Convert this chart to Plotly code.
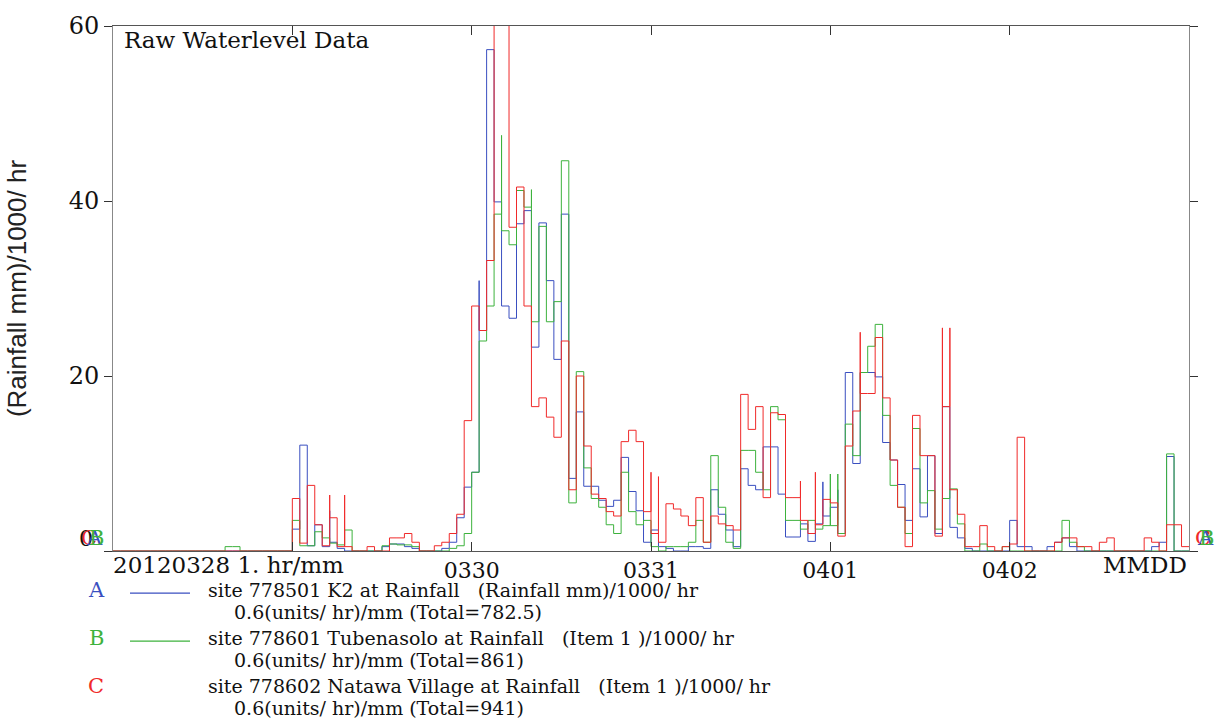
import plotly.graph_objects as go

# Hourly rainfall, 2012-03-28 00:00 to 2012-04-03 00:00 (144 hours), units (mm)/1000/hr
site_a = [  # 778501 K2
    0, 0, 0, 0, 0, 0, 0, 0, 0, 0, 0, 0,
    0, 0, 0, 0, 0, 0, 0, 0, 0, 0, 0, 0,
    2.5, 12.1, 0.6, 3.0, 0.5, 1.0, 0.3, 0, 0, 0, 0, 0,
    0.5, 0.8, 0.8, 0.5, 0.3, 0, 0, 0, 0.3, 1.0, 3.8, 7.3,
    9.0, 25.2, 57.3, 39.9, 28.0, 26.6, 37.4, 38.9, 23.3, 37.5, 30.9, 21.9,
    38.5, 8.3, 15.9, 7.4, 7.4, 5.8, 5.1, 5.8, 10.7, 6.8, 4.6, 1.0,
    2.4, 0.5, 0.3, 0, 0, 0.5, 0.5, 0.3, 7.0, 4.2, 2.4, 0.5,
    9.4, 7.5, 7.0, 11.9, 11.9, 6.5, 1.6, 1.6, 3.1, 1.1, 3.1, 4.0,
    5.0, 2.0, 20.4, 10.0, 20.4, 20.4, 19.9, 12.4, 10.4, 7.6, 3.5, 9.4,
    3.9, 10.9, 2.0, 16.5, 2.7, 1.5, 0.3, 0, 0, 0, 0, 0,
    3.5, 0.5, 0.5, 0, 0, 0.5, 1.0, 1.5, 0.5, 0, 0, 0,
    0, 0, 0, 0, 0, 0, 0, 0.5, 1.0, 10.8, 0, 0,
]
site_b = [  # 778601 Tubenasolo
    0, 0, 0, 0, 0, 0, 0, 0, 0, 0, 0, 0,
    0, 0, 0, 0.5, 0.5, 0, 0, 0, 0, 0, 0, 0,
    3.5, 0.6, 0.6, 2.2, 1.5, 0.9, 0.7, 2.4, 0, 0, 0, 0,
    0.6, 0.8, 0.7, 0.7, 0.5, 0, 0, 0, 0, 0.3, 0.6, 2.0,
    9.0, 24.0, 28.0, 38.5, 36.6, 35.0, 41.2, 39.3, 26.2, 37.1, 26.2, 28.5,
    44.6, 5.5, 20.5, 9.5, 6.0, 5.0, 3.0, 2.0, 9.0, 4.5, 3.0, 3.5,
    0.5, 0, 0.5, 0.5, 0.5, 1.0, 3.5, 1.0, 10.9, 5.0, 1.0, 0.3,
    11.5, 11.5, 9.0, 7.0, 16.5, 15.0, 3.5, 3.5, 2.5, 3.5, 2.5, 2.9,
    2.9, 2.0, 14.5, 10.9, 20.4, 23.4, 25.9, 15.5, 7.5, 5.0, 2.0, 14.0,
    5.5, 6.9, 2.5, 6.0, 7.1, 3.1, 0, 0, 0.8, 0, 0, 0.5,
    0, 0, 0, 0, 0, 0, 0, 3.5, 1.0, 0.5, 0, 0,
    0, 0, 0, 0, 0, 0, 0, 0, 0, 11.1, 0, 0,
]
site_c = [  # 778602 Natawa Village
    0, 0, 0, 0, 0, 0, 0, 0, 0, 0, 0, 0,
    0, 0, 0, 0, 0, 0, 0, 0, 0, 0, 0, 0,
    6.0, 0.9, 7.5, 3.0, 0.6, 3.8, 0.5, 0.5, 0, 0, 0.5, 0,
    0, 1.5, 1.5, 2.0, 1.0, 0, 0, 0.6, 1.0, 2.0, 4.2, 14.9,
    28.0, 25.2, 33.2, 62.0, 62.0, 37.0, 41.6, 28.0, 16.5, 17.5, 15.3, 13.0,
    24.0, 7.0, 20.0, 12.0, 6.5, 6.0, 4.5, 4.0, 12.5, 13.8, 12.5, 4.5,
    2.0, 1.0, 5.4, 4.8, 4.0, 2.9, 6.1, 1.0, 4.0, 3.1, 2.9, 2.4,
    17.9, 13.9, 16.5, 6.1, 15.8, 15.6, 6.1, 6.1, 3.5, 2.0, 3.0, 5.9,
    5.5, 1.7, 12.0, 16.0, 18.0, 18.0, 24.4, 17.5, 10.4, 5.0, 0.5, 15.5,
    10.9, 10.9, 1.7, 16.5, 7.0, 4.2, 0.5, 0.5, 2.9, 0.5, 0, 0.5,
    0.8, 13.0, 0, 0, 0, 0, 1.0, 1.5, 1.5, 0.5, 0.5, 0,
    1.0, 1.5, 0, 0, 0, 0, 1.5, 1.0, 0, 3.0, 3.0, 0.5,
]

# Short bursts recorded within an hour: (hour, peak)
bursts_a = [(49, 30.9), (29, 4.6), (95, 7.9), (97, 7.0)]
bursts_b = [(52, 47.5), (56, 41.3), (96, 8.8), (97, 8.8)]
bursts_c = [(29, 6.4), (31, 6.4), (72, 9.0), (73, 8.5), (92, 8.0), (94, 9.0),
            (100, 25.0), (111, 25.5), (112, 25.5)]

day_ticks = [24, 48, 72, 96, 120]
day_labels = ["", "0330", "0331", "0401", "0402"]

colors = {"A": "#3a4fc0", "B": "#3db23d", "C": "#f02a2a"}
SERIF = "DejaVu Serif"


def step_xy(vals, bursts):
    peaks = dict(bursts)
    xs, ys = [], []
    for h, v in enumerate(vals):
        if h in peaks:
            xs.append(h)
            ys.append(peaks[h])
        xs.append(h)
        ys.append(v)
    xs.append(len(vals))
    ys.append(vals[-1])
    return xs, ys


fig = go.Figure()
for key, vals, bursts in (("A", site_a, bursts_a), ("B", site_b, bursts_b), ("C", site_c, bursts_c)):
    xs, ys = step_xy(vals, bursts)
    fig.add_trace(go.Scatter(x=xs, y=ys, mode="lines", line=dict(color=colors[key], width=1, shape="hv"),
                             hoverinfo="skip"))

W, H = 1221, 726
L, R, T, B = 113, 32, 15, 175
pw, ph = W - L - R, H - T - B


def px(x):
    return (x - L) / pw


def py(y):
    return (H - B - y) / ph


fig.update_layout(
    width=W, height=H, margin=dict(l=L, r=R, t=T, b=B),
    plot_bgcolor="white", paper_bgcolor="white", showlegend=False,
    font=dict(family=SERIF, color="#111"),
)
fig.update_xaxes(range=[0, 144], tickvals=day_ticks, ticktext=day_labels, showgrid=False, zeroline=False,
                 showline=True, linecolor="#555", linewidth=1, mirror="ticks", ticks="inside", ticklen=9,
                 tickcolor="#333", tickfont=dict(family=SERIF, size=22, color="#111"))
fig.update_yaxes(range=[0, 60], tickvals=[0, 20, 40, 60], ticktext=["", "20", "40", "60"], showgrid=False,
                 zeroline=False, showline=True, linecolor="#888", linewidth=1, mirror="ticks", ticks="outside",
                 ticklen=8, tickcolor="#333", tickfont=dict(family=SERIF, size=24, color="#111"),
                 title=dict(text="(Rainfall mm)/1000/ hr", font=dict(family="Liberation Sans", size=26, color="#222"),
                            standoff=34))

ann = []


def text(x, y, s, size=17, color="#111", anchor="left", family=SERIF):
    ann.append(dict(x=px(x), y=py(y), xref="paper", yref="paper", text=s, showarrow=False, xanchor=anchor,
                    yanchor="middle", font=dict(family=family, size=size, color=color)))


text(122, 29, "Raw Waterlevel Data", size=23)
text(111, 565, "20120328 1. hr/mm", size=23)
text(1145, 565, "MMDD", size=23, anchor="center")
text(86, 538, "0", size=22, anchor="center")
for key, dx in (("C", 0), ("A", 5), ("B", 7)):
    text(89 + dx, 538, key, size=21, color=colors[key], anchor="center")
    text(1203 + dx / 2, 538, key, size=21, color=colors[key], anchor="center")

legend_rows = [
    ("A", "site 778501 K2 at Rainfall   (Rainfall mm)/1000/ hr", "0.6(units/ hr)/mm (Total=782.5)", True),
    ("B", "site 778601 Tubenasolo at Rainfall   (Item 1 )/1000/ hr", "0.6(units/ hr)/mm (Total=861)", True),
    ("C", "site 778602 Natawa Village at Rainfall   (Item 1 )/1000/ hr", "0.6(units/ hr)/mm (Total=941)", False),
]
shapes = []
for i, (key, line1, line2, swatch) in enumerate(legend_rows):
    y1 = 591 + i * 49
    text(96, y1, key, size=21, color=colors[key], anchor="center")
    text(206, y1, line1, size=19)
    text(232, y1 + 22, line2, size=19)
    if swatch:
        shapes.append(dict(type="line", xref="paper", yref="paper", x0=px(130), x1=px(190),
                           y0=py(y1 + 3), y1=py(y1 + 3), line=dict(color=colors[key], width=1.2)))

fig.update_layout(annotations=ann, shapes=shapes)
fig.write_html("out.html")
